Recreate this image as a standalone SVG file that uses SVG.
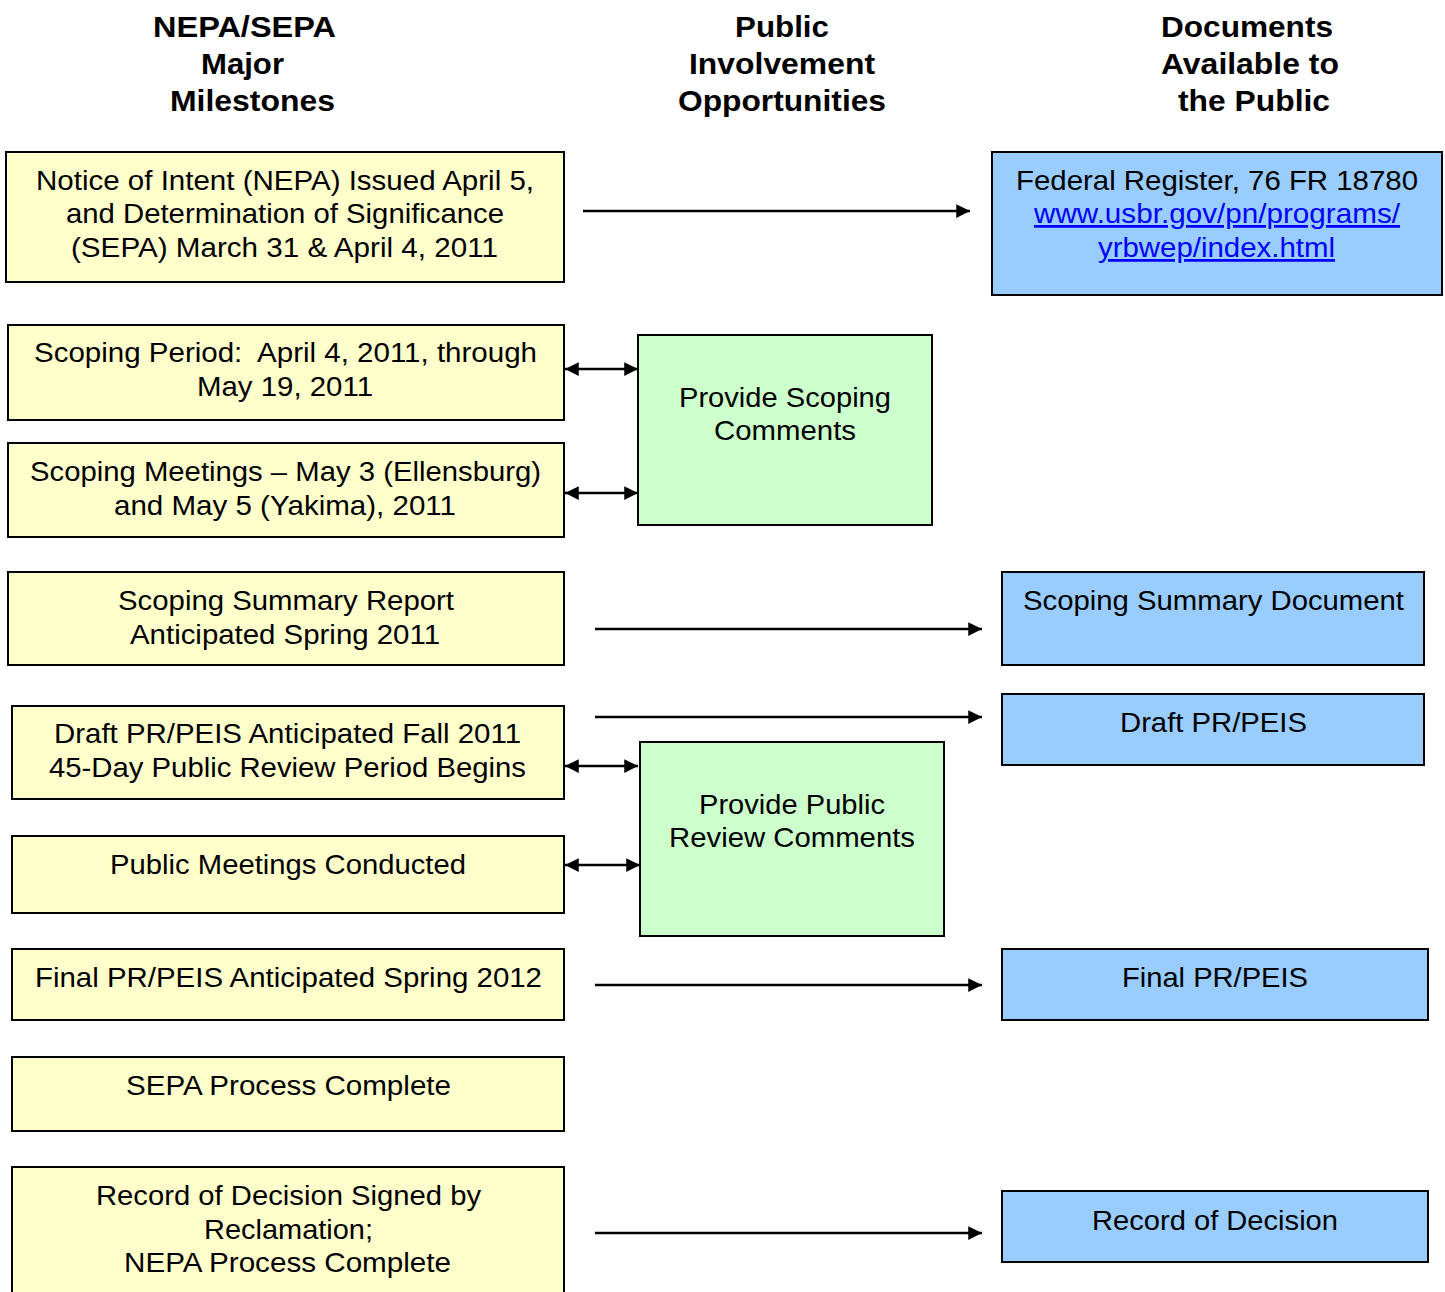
<svg xmlns="http://www.w3.org/2000/svg" width="1445" height="1292" viewBox="0 0 1445 1292">
<style>
text{font-family:"Liberation Sans",Arial,sans-serif;font-size:27.5px;fill:#000;text-anchor:middle}
.h{font-weight:bold;font-size:29.5px}
.y{fill:#FFFFCC;stroke:#000;stroke-width:2}
.g{fill:#CCFFCC;stroke:#000;stroke-width:2}
.b{fill:#99CCFF;stroke:#000;stroke-width:2}
.lk{fill:#0000FF;text-decoration:underline}
.c line{stroke:#000;stroke-width:2.5}
</style>
<defs>
<marker id="ah" viewBox="0 0 10 10" refX="10" refY="5" markerWidth="6.5" markerHeight="5.5" orient="auto-start-reverse" markerUnits="strokeWidth">
<path d="M0,0 L10,5 L0,10 z" fill="#000"/>
</marker>
</defs>
<rect width="1445" height="1292" fill="#fff"/>
<g id="headers">
<text class="h" x="244.5" y="37" textLength="183" lengthAdjust="spacingAndGlyphs">NEPA/SEPA</text>
<text class="h" x="242.5" y="74" textLength="83" lengthAdjust="spacingAndGlyphs">Major</text>
<text class="h" x="252.5" y="111" textLength="165" lengthAdjust="spacingAndGlyphs">Milestones</text>
<text class="h" x="782" y="37" textLength="94" lengthAdjust="spacingAndGlyphs">Public</text>
<text class="h" x="782" y="74" textLength="186" lengthAdjust="spacingAndGlyphs">Involvement</text>
<text class="h" x="782" y="111" textLength="208" lengthAdjust="spacingAndGlyphs">Opportunities</text>
<text class="h" x="1247" y="37" textLength="172" lengthAdjust="spacingAndGlyphs">Documents</text>
<text class="h" x="1250" y="74" textLength="178" lengthAdjust="spacingAndGlyphs">Available to</text>
<text class="h" x="1254" y="111" textLength="152" lengthAdjust="spacingAndGlyphs">the Public</text>
</g>
<g id="n_notice"><rect class="y" x="6" y="152" width="558" height="130"/>
<text x="285" y="190" textLength="498" lengthAdjust="spacingAndGlyphs">Notice of Intent (NEPA) Issued April 5,</text>
<text x="285" y="223" textLength="438" lengthAdjust="spacingAndGlyphs">and Determination of Significance</text>
<text x="284.5" y="257" textLength="427" lengthAdjust="spacingAndGlyphs">(SEPA) March 31 &amp; April 4, 2011</text></g>
<g id="n_fedreg"><rect class="b" x="992" y="152" width="450" height="143"/>
<text x="1217" y="190" textLength="402" lengthAdjust="spacingAndGlyphs">Federal Register, 76 FR 18780</text>
<text class="lk" x="1217" y="223" textLength="366" lengthAdjust="spacingAndGlyphs">www.usbr.gov/pn/programs/</text>
<text class="lk" x="1216.5" y="257" textLength="237" lengthAdjust="spacingAndGlyphs">yrbwep/index.html</text></g>
<g id="n_scopingperiod"><rect class="y" x="8" y="325" width="556" height="95"/>
<text x="285.5" y="362" textLength="503" lengthAdjust="spacingAndGlyphs" xml:space="preserve">Scoping Period:  April 4, 2011, through</text>
<text x="285" y="396" textLength="176" lengthAdjust="spacingAndGlyphs">May 19, 2011</text></g>
<g id="n_scopingcomments"><rect class="g" x="638" y="335" width="294" height="190"/>
<text x="785" y="407" textLength="212" lengthAdjust="spacingAndGlyphs">Provide Scoping</text>
<text x="785" y="440" textLength="142" lengthAdjust="spacingAndGlyphs">Comments</text></g>
<g id="n_scopingmeetings"><rect class="y" x="8" y="443" width="556" height="94"/>
<text x="285.5" y="481" textLength="511" lengthAdjust="spacingAndGlyphs">Scoping Meetings – May 3 (Ellensburg)</text>
<text x="285" y="515" textLength="342" lengthAdjust="spacingAndGlyphs">and May 5 (Yakima), 2011</text></g>
<g id="n_summaryreport"><rect class="y" x="8" y="572" width="556" height="93"/>
<text x="286" y="610" textLength="336" lengthAdjust="spacingAndGlyphs">Scoping Summary Report</text>
<text x="285" y="644" textLength="310" lengthAdjust="spacingAndGlyphs">Anticipated Spring 2011</text></g>
<g id="n_summarydoc"><rect class="b" x="1002" y="572" width="422" height="93"/>
<text x="1213.5" y="610" textLength="381" lengthAdjust="spacingAndGlyphs">Scoping Summary Document</text></g>
<g id="n_draft"><rect class="y" x="12" y="706" width="552" height="93"/>
<text x="287.5" y="743" textLength="467" lengthAdjust="spacingAndGlyphs">Draft PR/PEIS Anticipated Fall 2011</text>
<text x="287.5" y="777" textLength="477" lengthAdjust="spacingAndGlyphs">45-Day Public Review Period Begins</text></g>
<g id="n_draftdoc"><rect class="b" x="1002" y="694" width="422" height="71"/>
<text x="1213.5" y="732" textLength="187" lengthAdjust="spacingAndGlyphs">Draft PR/PEIS</text></g>
<g id="n_reviewcomments"><rect class="g" x="640" y="742" width="304" height="194"/>
<text x="792" y="814" textLength="186" lengthAdjust="spacingAndGlyphs">Provide Public</text>
<text x="792" y="847" textLength="246" lengthAdjust="spacingAndGlyphs">Review Comments</text></g>
<g id="n_publicmeetings"><rect class="y" x="12" y="836" width="552" height="77"/>
<text x="288" y="874" textLength="356" lengthAdjust="spacingAndGlyphs">Public Meetings Conducted</text></g>
<g id="n_final"><rect class="y" x="12" y="949" width="552" height="71"/>
<text x="288.5" y="987" textLength="507" lengthAdjust="spacingAndGlyphs">Final PR/PEIS Anticipated Spring 2012</text></g>
<g id="n_finaldoc"><rect class="b" x="1002" y="949" width="426" height="71"/>
<text x="1215" y="987" textLength="186" lengthAdjust="spacingAndGlyphs">Final PR/PEIS</text></g>
<g id="n_sepa"><rect class="y" x="12" y="1057" width="552" height="74"/>
<text x="288.5" y="1095" textLength="325" lengthAdjust="spacingAndGlyphs">SEPA Process Complete</text></g>
<g id="n_rod"><rect class="y" x="12" y="1167" width="552" height="140"/>
<text x="288.5" y="1205" textLength="385" lengthAdjust="spacingAndGlyphs">Record of Decision Signed by</text>
<text x="288.5" y="1239" textLength="169" lengthAdjust="spacingAndGlyphs">Reclamation;</text>
<text x="287.5" y="1272" textLength="327" lengthAdjust="spacingAndGlyphs">NEPA Process Complete</text></g>
<g id="n_roddoc"><rect class="b" x="1002" y="1191" width="426" height="71"/>
<text x="1215" y="1230" textLength="246" lengthAdjust="spacingAndGlyphs">Record of Decision</text></g>
<g id="connectors" class="c">
<line x1="583" y1="211" x2="970" y2="211" marker-end="url(#ah)"/>
<line x1="565" y1="369" x2="638" y2="369" marker-start="url(#ah)" marker-end="url(#ah)"/>
<line x1="565" y1="493" x2="638" y2="493" marker-start="url(#ah)" marker-end="url(#ah)"/>
<line x1="595" y1="629" x2="982" y2="629" marker-end="url(#ah)"/>
<line x1="595" y1="717" x2="982" y2="717" marker-end="url(#ah)"/>
<line x1="565" y1="766" x2="638" y2="766" marker-start="url(#ah)" marker-end="url(#ah)"/>
<line x1="565" y1="865" x2="640" y2="865" marker-start="url(#ah)" marker-end="url(#ah)"/>
<line x1="595" y1="985" x2="982" y2="985" marker-end="url(#ah)"/>
<line x1="595" y1="1233" x2="982" y2="1233" marker-end="url(#ah)"/>
</g>
</svg>
